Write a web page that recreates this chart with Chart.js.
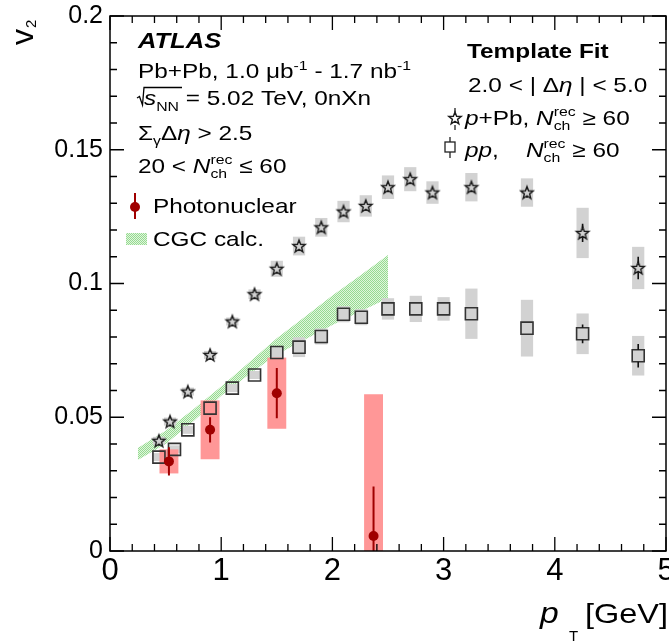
<!DOCTYPE html>
<html>
<head>
<meta charset="utf-8">
<script src="https://cdn.jsdelivr.net/npm/chart.js@4.4.1/dist/chart.umd.min.js"></script>
<style>
body { margin: 0; background: #fff; }
#wrap { width: 669px; height: 643px; }
</style>
</head>
<body>
<div id="wrap"><canvas id="c" width="669" height="643"></canvas></div>
<script>
// p+Pb template fit (stars)
var pPbX = [0.44, 0.54, 0.70, 0.90, 1.10, 1.30, 1.50, 1.70, 1.90, 2.10, 2.30, 2.50, 2.70, 2.90, 3.25, 3.75, 4.25, 4.75];
var pPbV2 = [0.0412, 0.0484, 0.0596, 0.0733, 0.0858, 0.0960, 0.1055, 0.1140, 0.1210, 0.1269, 0.1290, 0.1360, 0.1390, 0.1340, 0.1360, 0.1340, 0.1189, 0.1058];
var pPbStat = [0.0004, 0.0004, 0.0004, 0.0004, 0.0005, 0.0005, 0.0006, 0.0007, 0.0008, 0.0009, 0.0010, 0.0011, 0.0012, 0.0013, 0.0015, 0.0020, 0.0034, 0.0042];
var pPbSys = [0.0015, 0.0015, 0.0015, 0.0015, 0.0015, 0.0018, 0.0030, 0.0035, 0.0035, 0.0040, 0.0040, 0.0044, 0.0045, 0.0042, 0.0053, 0.0053, 0.0094, 0.0079];

// pp template fit (open squares)
var ppX = [0.44, 0.58, 0.70, 0.90, 1.10, 1.30, 1.50, 1.70, 1.90, 2.10, 2.26, 2.50, 2.75, 3.00, 3.25, 3.75, 4.25, 4.75];
var ppV2 = [0.0351, 0.0380, 0.0453, 0.0534, 0.0609, 0.0658, 0.0742, 0.0762, 0.0802, 0.0885, 0.0874, 0.0905, 0.0905, 0.0905, 0.0887, 0.0833, 0.0812, 0.0730];
var ppStat = [0.0004, 0.0004, 0.0004, 0.0004, 0.0005, 0.0005, 0.0006, 0.0007, 0.0008, 0.0009, 0.0010, 0.0011, 0.0012, 0.0013, 0.0015, 0.0020, 0.0035, 0.0044];
var ppSys = [0.0015, 0.0015, 0.0015, 0.0015, 0.0015, 0.0015, 0.0020, 0.0037, 0.0030, 0.0030, 0.0030, 0.0040, 0.0049, 0.0044, 0.0094, 0.0106, 0.0076, 0.0074];

// photonuclear Pb+Pb
var photoX = [0.53, 0.90, 1.50, 2.37];
var photoV2 = [0.0335, 0.0453, 0.0590, 0.0056];
var photoStat = [0.0053, 0.0047, 0.0094, 0.0185];
var photoSys = [0.0045, 0.0110, 0.0133, 0.0530];

// CGC calculation band
var cgcX = [0.25, 0.5, 0.75, 1.0, 1.25, 1.5, 1.75, 2.0, 2.25, 2.5];
var cgcLow = [0.0340, 0.0400, 0.0485, 0.0580, 0.0660, 0.0735, 0.0790, 0.0845, 0.0895, 0.0945];
var cgcHigh = [0.0385, 0.0450, 0.0530, 0.0615, 0.0705, 0.0795, 0.0875, 0.0955, 0.1030, 0.1107];

var xTicks = [0, 1, 2, 3, 4, 5];
var xTickLabels = ['0', '1', '2', '3', '4', '5'];
var yTicks = [0, 0.05, 0.1, 0.15, 0.2];
var yTickLabels = ['0', '0.05', '0.1', '0.15', '0.2'];

var FONT = '"Liberation Sans", Arial, sans-serif';
var SX = 1.16;
var RED = '#a00000';
var PINK = '#ff9797';
var GREY = '#d2d2d2';

function pts(xs, ys) {
  return xs.map(function (x, i) { return { x: x, y: ys[i] }; });
}

// open five-pointed star marker
function makeStar(size) {
  var c = document.createElement('canvas');
  c.width = size; c.height = size;
  var g = c.getContext('2d');
  var R = 6.5, r = R * 0.42, cx = size / 2, cy = size / 2 + 0.5;
  g.beginPath();
  for (var i = 0; i < 10; i++) {
    var a = -Math.PI / 2 + i * Math.PI / 5;
    var rr = i % 2 ? r : R;
    var px = cx + rr * Math.cos(a), py = cy + rr * Math.sin(a);
    if (i === 0) g.moveTo(px, py); else g.lineTo(px, py);
  }
  g.closePath();
  g.lineWidth = 1.4;
  g.strokeStyle = '#1a1a1a';
  g.stroke();
  return c;
}
var starImg = makeStar(18);

// fine green hatch for the CGC band
function makeHatch() {
  var c = document.createElement('canvas');
  c.width = 2; c.height = 2;
  var g = c.getContext('2d');
  g.fillStyle = '#e0f6dc';
  g.fillRect(0, 0, 2, 2);
  g.fillStyle = '#96da92';
  g.fillRect(0, 0, 1, 1);
  g.fillRect(1, 1, 1, 1);
  return g.createPattern(c, 'repeat');
}
var hatch = makeHatch();

function rich(ctx, x, y, size, parts, sx) {
  ctx.save();
  ctx.translate(x, y);
  ctx.scale(sx || SX, 1);
  ctx.fillStyle = '#000';
  ctx.textAlign = 'left';
  ctx.textBaseline = 'alphabetic';
  var cx = 0, held = 0;
  parts.forEach(function (p) {
    if (typeof p === 'string') p = { t: p };
    ctx.font = (p.f || '') + ' ' + (size * (p.k || 1)) + 'px ' + FONT;
    ctx.fillText(p.t, cx, p.dy || 0);
    var w = ctx.measureText(p.t).width;
    if (p.hold) { held = w; } else { cx += Math.max(w, held); held = 0; }
  });
  ctx.restore();
}

var boxPlugin = {
  id: 'sysBoxes',
  beforeDatasetsDraw: function (chart) {
    var ctx = chart.ctx, xs = chart.scales.x, ys = chart.scales.y, a = chart.chartArea;
    ctx.save();
    ctx.beginPath();
    ctx.rect(a.left, a.top, a.right - a.left, a.bottom - a.top);
    ctx.clip();
    function boxes(X, Y, S, hw, color) {
      ctx.fillStyle = color;
      X.forEach(function (x, i) {
        var l = xs.getPixelForValue(x - hw), r = xs.getPixelForValue(x + hw);
        var t = ys.getPixelForValue(Y[i] + S[i]), b = ys.getPixelForValue(Y[i] - S[i]);
        ctx.fillRect(l, t, r - l, b - t);
      });
    }
    boxes(pPbX, pPbV2, pPbSys, 0.055, GREY);
    boxes(ppX, ppV2, ppSys, 0.055, GREY);
    boxes(photoX, photoV2, photoSys, 0.085, PINK);
    ctx.restore();
  }
};

var errPlugin = {
  id: 'statBars',
  afterDatasetsDraw: function (chart) {
    var ctx = chart.ctx, xs = chart.scales.x, ys = chart.scales.y, a = chart.chartArea;
    ctx.save();
    ctx.beginPath();
    ctx.rect(a.left, a.top, a.right - a.left, a.bottom - a.top);
    ctx.clip();
    // bars stop at the marker edge (gap), like ROOT does for open markers
    function bars(X, Y, E, color, w, gap) {
      ctx.strokeStyle = color;
      ctx.lineWidth = w;
      X.forEach(function (x, i) {
        var px = xs.getPixelForValue(x), pc = ys.getPixelForValue(Y[i]);
        var top = ys.getPixelForValue(Y[i] + E[i]), bot = ys.getPixelForValue(Y[i] - E[i]);
        ctx.beginPath();
        if (pc - top > gap) { ctx.moveTo(px, top); ctx.lineTo(px, pc - gap); }
        if (bot - pc > gap) { ctx.moveTo(px, pc + gap); ctx.lineTo(px, bot); }
        ctx.stroke();
      });
    }
    bars(pPbX, pPbV2, pPbStat, '#111', 1.6, 5);
    bars(ppX, ppV2, ppStat, '#111', 1.6, 6);
    bars(photoX, photoV2, photoStat, RED, 2, 0);
    ctx.restore();

    // frame and inward ticks
    ctx.save();
    ctx.strokeStyle = '#000';
    ctx.lineWidth = 1.5;
    ctx.strokeRect(a.left, a.top, a.right - a.left, a.bottom - a.top);
    ctx.lineWidth = 1.3;
    ctx.beginPath();
    for (var i = 0; i <= 25; i++) {
      var px = xs.getPixelForValue(i * 0.2);
      var len = i % 5 === 0 ? 14 : 7;
      ctx.moveTo(px, a.bottom); ctx.lineTo(px, a.bottom - len);
      ctx.moveTo(px, a.top); ctx.lineTo(px, a.top + len);
    }
    for (var j = 0; j <= 20; j++) {
      var py = ys.getPixelForValue(j * 0.01);
      var ln = j % 5 === 0 ? 14 : 7;
      ctx.moveTo(a.left, py); ctx.lineTo(a.left + ln, py);
      ctx.moveTo(a.right, py); ctx.lineTo(a.right - ln, py);
    }
    ctx.stroke();
    ctx.restore();
  }
};

var textPlugin = {
  id: 'labels',
  afterDraw: function (chart) {
    var ctx = chart.ctx;
    // left block
    rich(ctx, 138, 48, 22, [{ t: 'ATLAS', f: 'italic bold' }]);
    rich(ctx, 138, 78, 21, ['Pb+Pb, 1.0 \u03bcb', { t: '-1', k: 0.65, dy: -8 }, ' - 1.7 nb', { t: '-1', k: 0.65, dy: -8 }]);
    ctx.save();
    ctx.strokeStyle = '#000';
    ctx.lineWidth = 1.3;
    ctx.beginPath();
    ctx.moveTo(137, 98); ctx.lineTo(139.5, 96.5); ctx.lineTo(142.5, 105); ctx.lineTo(144, 87.5); ctx.lineTo(182, 87.5);
    ctx.stroke();
    ctx.restore();
    rich(ctx, 144, 105, 21, [{ t: 's', f: 'italic' }, { t: 'NN', k: 0.65, dy: 6 }, ' = 5.02 TeV, 0nXn']);
    rich(ctx, 138, 140, 21, ['\u03a3', { t: '\u03b3', k: 0.65, dy: 5 }, '\u0394', { t: '\u03b7', f: 'italic' }, ' > 2.5']);
    rich(ctx, 138, 173, 21, ['20 < ', { t: 'N', f: 'italic' }, { t: 'rec', k: 0.65, dy: -9, hold: true }, { t: 'ch', k: 0.65, dy: 5 }, ' \u2264 60']);

    ctx.save();
    ctx.strokeStyle = RED; ctx.lineWidth = 2;
    ctx.beginPath(); ctx.moveTo(135, 193); ctx.lineTo(135, 219); ctx.stroke();
    ctx.fillStyle = RED;
    ctx.beginPath(); ctx.arc(135, 207, 5, 0, Math.PI * 2); ctx.fill();
    ctx.fillStyle = hatch;
    ctx.fillRect(126, 233, 21, 12);
    ctx.restore();
    rich(ctx, 153, 213, 21, ['Photonuclear']);
    rich(ctx, 153, 246, 21, ['CGC calc.']);

    // right block
    rich(ctx, 467, 58, 21, [{ t: 'Template Fit', f: 'bold' }]);
    rich(ctx, 468, 92, 21, ['2.0 < | \u0394', { t: '\u03b7', f: 'italic' }, ' | < 5.0']);
    rich(ctx, 465, 125, 21, [{ t: 'p', f: 'italic' }, '+Pb, ', { t: 'N', f: 'italic' }, { t: 'rec', k: 0.65, dy: -9, hold: true }, { t: 'ch', k: 0.65, dy: 5 }, ' \u2265 60']);
    rich(ctx, 465, 157, 21, [{ t: 'pp', f: 'italic' }, ',    ', { t: 'N', f: 'italic' }, { t: 'rec', k: 0.65, dy: -9, hold: true }, { t: 'ch', k: 0.65, dy: 5 }, ' \u2265 60']);
    ctx.save();
    ctx.strokeStyle = '#222'; ctx.lineWidth = 1.3;
    ctx.beginPath();
    ctx.moveTo(455, 108); ctx.lineTo(455, 112); ctx.moveTo(455, 125); ctx.lineTo(455, 130);
    ctx.moveTo(450, 137); ctx.lineTo(450, 142); ctx.moveTo(450, 152); ctx.lineTo(450, 158);
    ctx.stroke();
    ctx.drawImage(starImg, 455 - 9, 118 - 9);
    ctx.strokeRect(445, 142, 10, 10);
    ctx.restore();

    // axis titles
    rich(ctx, 540, 623, 29, [{ t: 'p', f: 'italic' }]);
    rich(ctx, 569, 641, 15, ['T'], 1);
    rich(ctx, 585, 623, 28, ['[GeV]']);
    ctx.save();
    ctx.fillStyle = '#000';
    ctx.translate(33, 45);
    ctx.rotate(-Math.PI / 2);
    ctx.font = '32px ' + FONT;
    ctx.fillText('v', 0, 0);
    ctx.font = '15px ' + FONT;
    ctx.fillText('2', 17, 3);
    ctx.restore();
  }
};

new Chart(document.getElementById('c'), {
  type: 'scatter',
  data: {
    datasets: [
      {
        label: 'CGC low', data: pts(cgcX, cgcLow), showLine: true, pointRadius: 0,
        borderWidth: 0, borderColor: 'rgba(0,0,0,0)', fill: false, order: 10
      },
      {
        label: 'CGC calc.', data: pts(cgcX, cgcHigh), showLine: true, pointRadius: 0,
        borderWidth: 0, borderColor: 'rgba(0,0,0,0)', backgroundColor: hatch, fill: '-1', order: 9
      },
      {
        label: 'pp', data: pts(ppX, ppV2), pointStyle: 'rect', pointRadius: 8.5,
        borderColor: '#333', borderWidth: 1.6, backgroundColor: 'rgba(0,0,0,0)', order: 3
      },
      {
        label: 'p+Pb', data: pts(pPbX, pPbV2), pointStyle: starImg, pointRadius: 9, order: 2
      },
      {
        label: 'Photonuclear', data: pts(photoX, photoV2), pointStyle: 'circle', pointRadius: 5,
        borderColor: RED, backgroundColor: RED, borderWidth: 0, order: 1
      }
    ]
  },
  options: {
    responsive: false,
    animation: false,
    layout: { autoPadding: false, padding: { top: 16, right: 3, left: 0, bottom: 0 } },
    plugins: {
      legend: { display: false },
      tooltip: { enabled: false },
      filler: { drawTime: 'beforeDatasetsDraw' }
    },
    scales: {
      x: {
        type: 'linear', min: 0, max: 5,
        afterBuildTicks: function (s) { s.ticks = xTicks.map(function (v) { return { value: v }; }); },
        afterFit: function (s) { s.height = 92; s.paddingLeft = 0; s.paddingRight = 0; },
        ticks: {
          padding: 2, color: '#000', maxRotation: 0,
          font: { family: FONT, size: 31 },
          callback: function (v, i) { return xTickLabels[i]; }
        },
        grid: { display: false, drawTicks: false },
        border: { display: false }
      },
      y: {
        type: 'linear', min: 0, max: 0.2,
        afterBuildTicks: function (s) { s.ticks = yTicks.map(function (v) { return { value: v }; }); },
        afterFit: function (s) { s.width = 110; s.paddingTop = 0; s.paddingBottom = 0; },
        ticks: {
          padding: 7, color: '#000',
          font: { family: FONT, size: 25 },
          callback: function (v, i) { return yTickLabels[i]; }
        },
        grid: { display: false, drawTicks: false },
        border: { display: false }
      }
    }
  },
  plugins: [boxPlugin, errPlugin, textPlugin]
});
</script>
</body>
</html>
